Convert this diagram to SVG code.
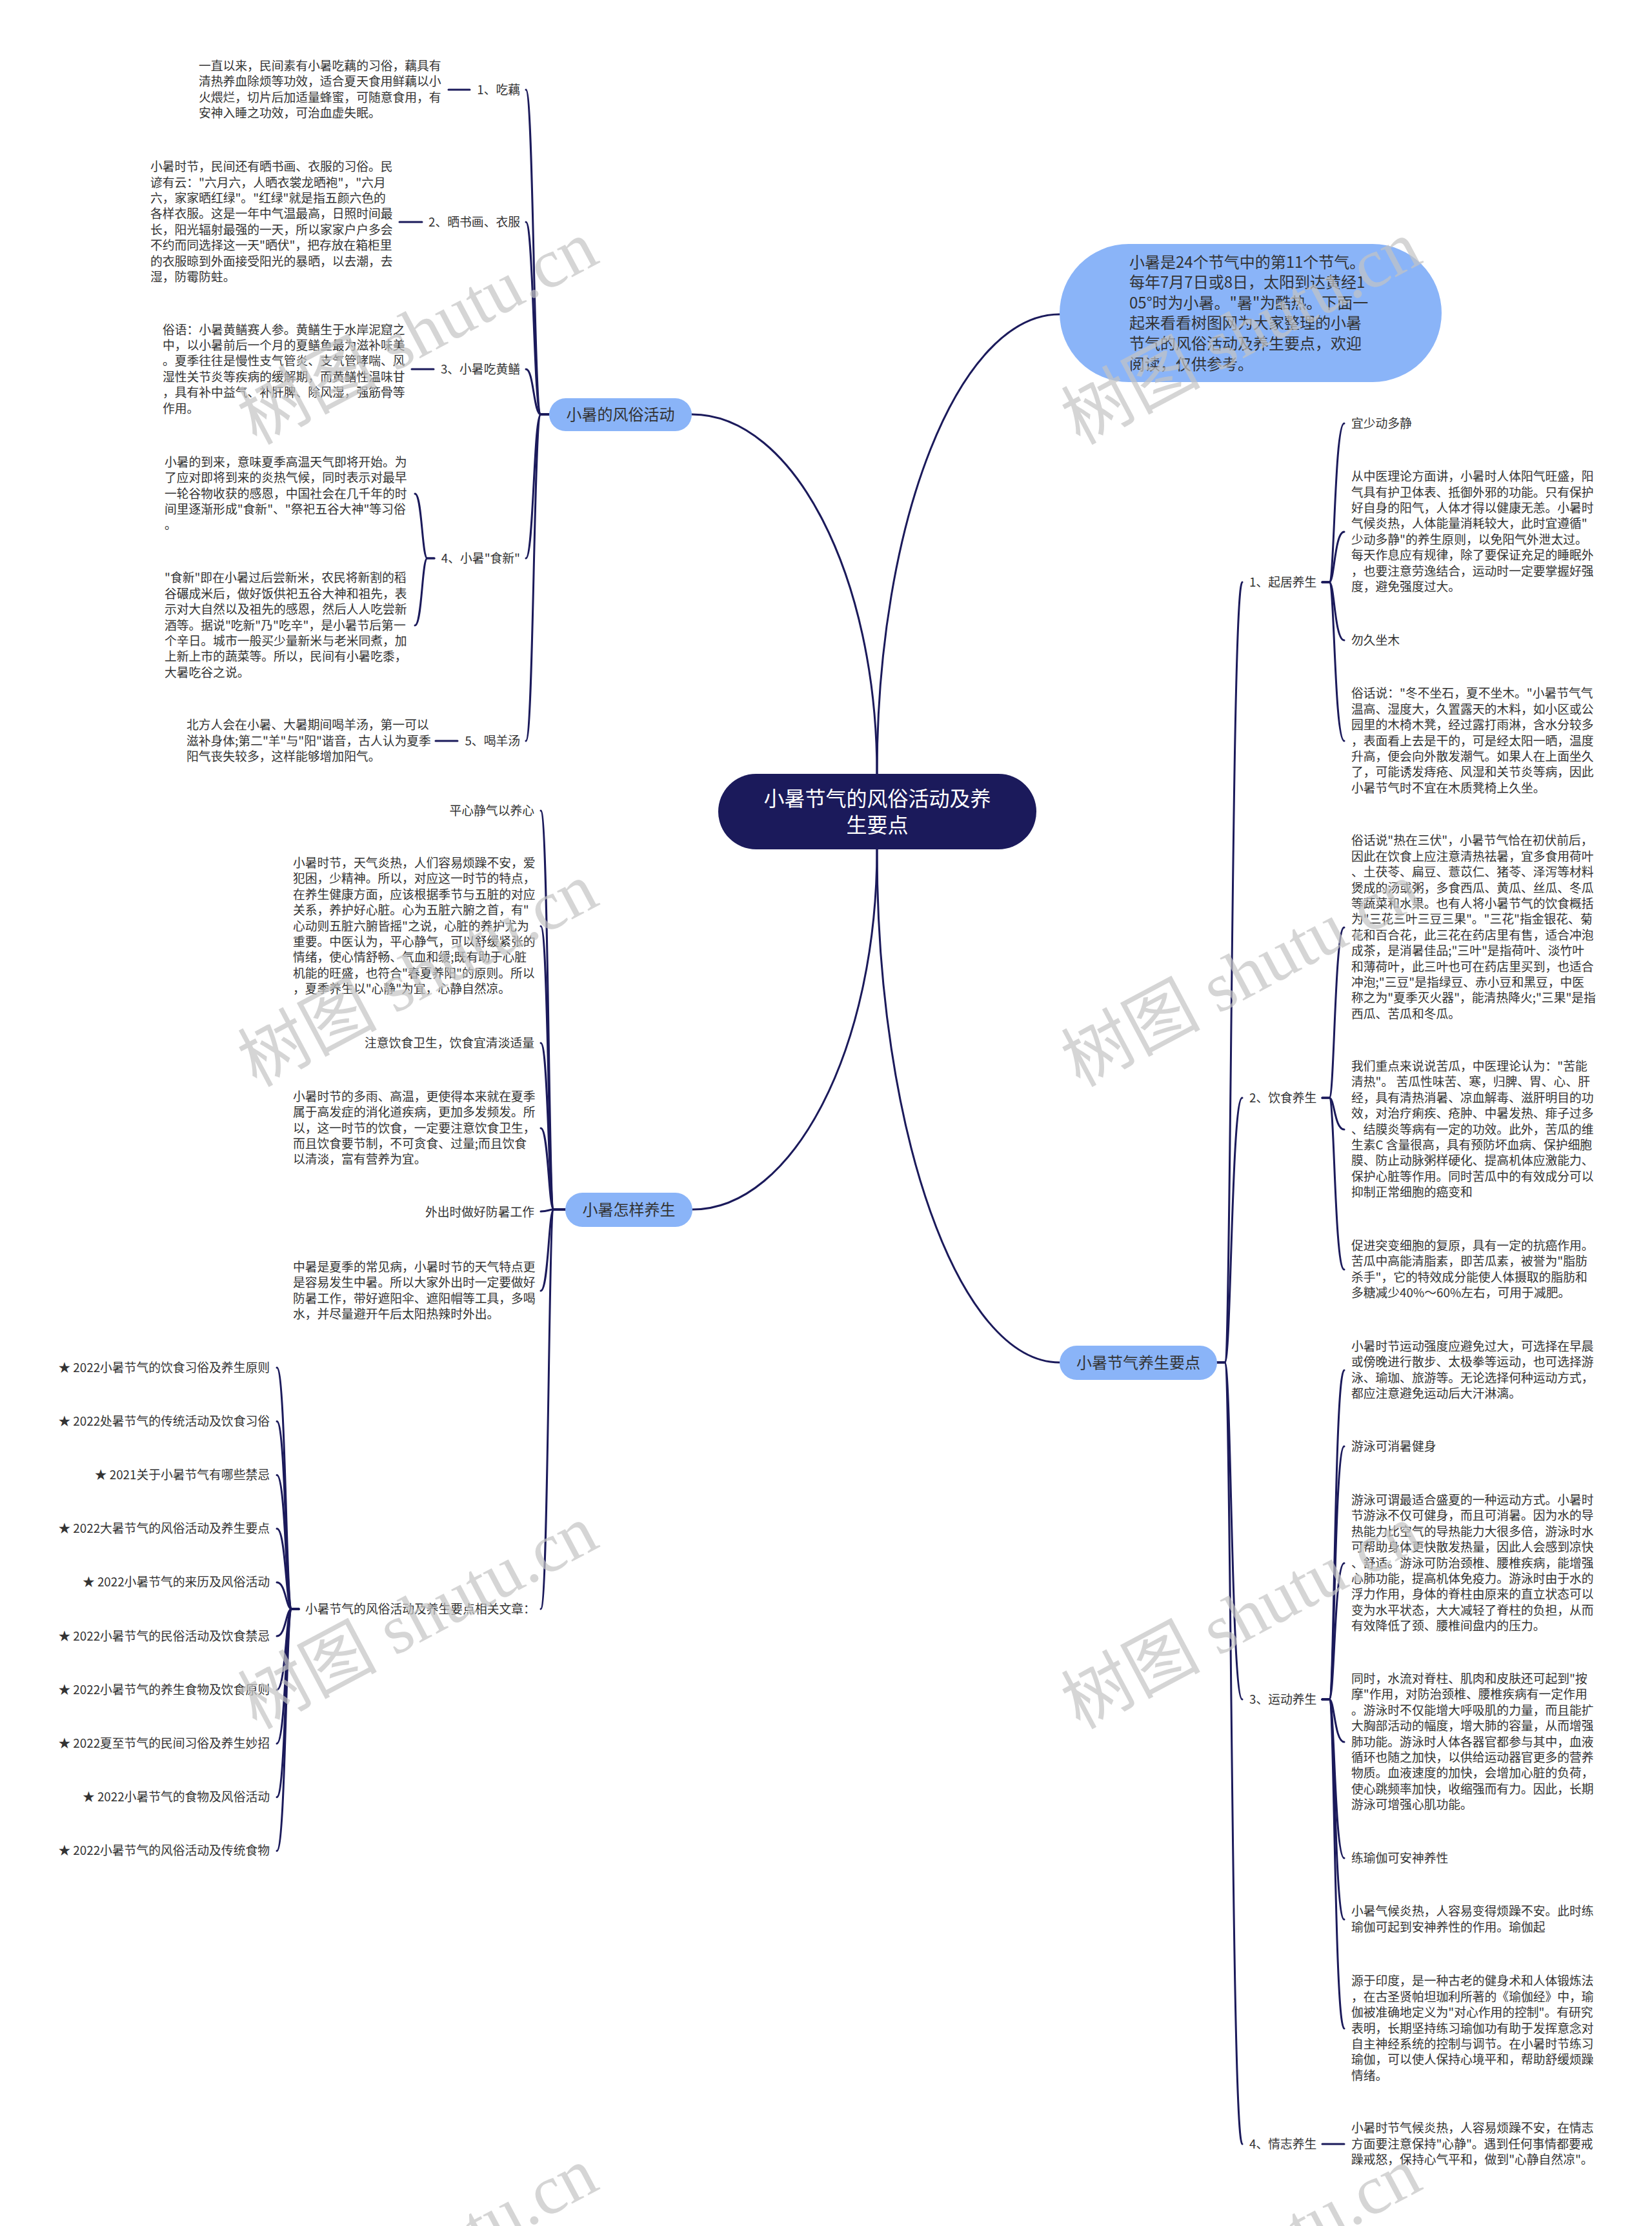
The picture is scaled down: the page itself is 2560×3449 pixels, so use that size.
<svg xmlns="http://www.w3.org/2000/svg" width="2560" height="3449" viewBox="0 0 2560 3449">
<defs>
<style>
.t{font-family:"Noto Sans CJK SC","Noto Sans",sans-serif;font-size:18.8px;fill:#333;}
.e{text-anchor:end;}
.p{font-family:"Noto Sans CJK SC","Noto Sans",sans-serif;font-size:24px;fill:#333;text-anchor:middle;}
.c{fill:none;stroke:#1b1a5b;stroke-width:3;stroke-linecap:round;}
.pill{fill:#8ab4f8;}
.wm{font-family:"Liberation Serif","Noto Sans CJK SC",serif;font-size:108px;fill:#c4c4c4;opacity:0.7;}
</style>
</defs>
<rect width="2560" height="3449" fill="#fff"/>

<g id="connectors">
<path class="c" d="M1359,1199 C1359,893 1230,642 1072,642"/>
<path class="c" d="M1359,1199 C1359,807 1486,487 1642,487"/>
<path class="c" d="M1359,1316 C1359,1623 1230,1874 1073,1874"/>
<path class="c" d="M1359,1316 C1359,1754 1486,2111 1642,2111"/>
<!-- branch 1 -->
<path class="c" d="M851,642 L838,642 C827,642 827,139 815,139"/>
<path class="c" d="M851,642 L838,642 C827,642 827,344 815,344"/>
<path class="c" d="M851,642 L838,642 C827,642 827,572 815,572"/>
<path class="c" d="M851,642 L838,642 C827,642 827,865 815,865"/>
<path class="c" d="M851,642 L838,642 C827,642 827,1148 815,1148"/>
<path class="c" d="M695,139 L728,139"/>
<path class="c" d="M619,344 L654,344"/>
<path class="c" d="M638,572 L672,572"/>
<path class="c" d="M675,1148 L709,1148"/>
<path class="c" d="M673,865 L662,865 C654,865 654,765 643,765"/>
<path class="c" d="M673,865 L662,865 C654,865 654,969 643,969"/>
<!-- branch 2 -->
<path class="c" d="M876,1874 L858,1874 C850,1874 850,1256 838,1256"/>
<path class="c" d="M876,1874 L858,1874 C850,1874 850,1435 838,1435"/>
<path class="c" d="M876,1874 L858,1874 C850,1874 850,1616 838,1616"/>
<path class="c" d="M876,1874 L858,1874 C850,1874 850,1748 838,1748"/>
<path class="c" d="M876,1874 L858,1874 C850,1874 850,1877 838,1877"/>
<path class="c" d="M876,1874 L858,1874 C850,1874 850,2000 838,2000"/>
<path class="c" d="M876,1874 L858,1874 C850,1874 850,2493 838,2493"/>
<path class="c" d="M463,2493 L452,2493 C443,2493 443,2119 429,2119"/>
<path class="c" d="M463,2493 L452,2493 C443,2493 443,2202.2 429,2202.2"/>
<path class="c" d="M463,2493 L452,2493 C443,2493 443,2285.4 429,2285.4"/>
<path class="c" d="M463,2493 L452,2493 C443,2493 443,2368.6 429,2368.6"/>
<path class="c" d="M463,2493 L452,2493 C443,2493 443,2451.8 429,2451.8"/>
<path class="c" d="M463,2493 L452,2493 C443,2493 443,2535 429,2535"/>
<path class="c" d="M463,2493 L452,2493 C443,2493 443,2618.2 429,2618.2"/>
<path class="c" d="M463,2493 L452,2493 C443,2493 443,2701.4 429,2701.4"/>
<path class="c" d="M463,2493 L452,2493 C443,2493 443,2784.6 429,2784.6"/>
<path class="c" d="M463,2493 L452,2493 C443,2493 443,2867.8 429,2867.8"/>
<!-- right branch -->
<path class="c" d="M1886,2111 L1898,2111 C1908,2111 1908,902 1925,902"/>
<path class="c" d="M1886,2111 L1898,2111 C1908,2111 1908,1701 1925,1701"/>
<path class="c" d="M1886,2111 L1898,2111 C1908,2111 1908,2633 1925,2633"/>
<path class="c" d="M1886,2111 L1898,2111 C1908,2111 1908,3322 1925,3322"/>
<path class="c" d="M2049,902 L2060,902 C2068,902 2068,656 2083,656"/>
<path class="c" d="M2049,902 L2060,902 C2068,902 2068,824 2083,824"/>
<path class="c" d="M2049,902 L2060,902 C2068,902 2068,992 2083,992"/>
<path class="c" d="M2049,902 L2060,902 C2068,902 2068,1148 2083,1148"/>
<path class="c" d="M2049,1701 L2060,1701 C2068,1701 2068,1437 2083,1437"/>
<path class="c" d="M2049,1701 L2060,1701 C2068,1701 2068,1750 2083,1750"/>
<path class="c" d="M2049,1701 L2060,1701 C2068,1701 2068,1967 2083,1967"/>
<path class="c" d="M2049,2633 L2060,2633 C2068,2633 2068,2123 2083,2123"/>
<path class="c" d="M2049,2633 L2060,2633 C2068,2633 2068,2241 2083,2241"/>
<path class="c" d="M2049,2633 L2060,2633 C2068,2633 2068,2422 2083,2422"/>
<path class="c" d="M2049,2633 L2060,2633 C2068,2633 2068,2699 2083,2699"/>
<path class="c" d="M2049,2633 L2060,2633 C2068,2633 2068,2879 2083,2879"/>
<path class="c" d="M2049,2633 L2060,2633 C2068,2633 2068,2974 2083,2974"/>
<path class="c" d="M2049,2633 L2060,2633 C2068,2633 2068,3143 2083,3143"/>
<path class="c" d="M2049,3322 L2083,3322"/>
</g>

<g id="center">
<rect x="1113" y="1199" width="493" height="117" rx="58.5" fill="#1b1a5b"/>
<text x="1359.5" y="1249" font-family="Noto Sans CJK SC,sans-serif" font-size="32" fill="#fff" text-anchor="middle">小暑节气的风俗活动及养</text>
<text x="1359.5" y="1290" font-family="Noto Sans CJK SC,sans-serif" font-size="32" fill="#fff" text-anchor="middle">生要点</text>
</g>

<g id="intro">
<rect class="pill" x="1642" y="378" width="592" height="214" rx="107"/>
<text class="t" style="font-size:24px" x="1750" y="414.5"><tspan x="1750">小暑是24个节气中的第11个节气。</tspan><tspan x="1750" dy="31.6">每年7月7日或8日，太阳到达黄经1</tspan><tspan x="1750" dy="31.6">05°时为小暑。"暑"为酷热。下面一</tspan><tspan x="1750" dy="31.6">起来看看树图网为大家整理的小暑</tspan><tspan x="1750" dy="31.6">节气的风俗活动及养生要点，欢迎</tspan><tspan x="1750" dy="31.6">阅读，仅供参考。</tspan></text>
</g>

<g id="b1">
<rect class="pill" x="851" y="617" width="221" height="51" rx="25.5"/>
<text class="p" x="961.5" y="650.5">小暑的风俗活动</text>
</g>
<g id="b1-1">
<text class="t e" x="806" y="145.5">1、吃藕</text>
<text class="t" x="308" y="108.9"><tspan x="308">一直以来，民间素有小暑吃藕的习俗，藕具有</tspan><tspan x="308" dy="24.4">清热养血除烦等功效，适合夏天食用鲜藕以小</tspan><tspan x="308" dy="24.4">火煨烂，切片后加适量蜂蜜，可随意食用，有</tspan><tspan x="308" dy="24.4">安神入睡之功效，可治血虚失眠。</tspan></text>
</g>
<g id="b1-2">
<text class="t e" x="806" y="350.5">2、晒书画、衣服</text>
<text class="t" x="233" y="265.1"><tspan x="233">小暑时节，民间还有晒书画、衣服的习俗。民</tspan><tspan x="233" dy="24.4">谚有云："六月六，人晒衣裳龙晒袍"，"六月</tspan><tspan x="233" dy="24.4">六，家家晒红绿"。"红绿"就是指五颜六色的</tspan><tspan x="233" dy="24.4">各样衣服。这是一年中气温最高，日照时间最</tspan><tspan x="233" dy="24.4">长，阳光辐射最强的一天，所以家家户户多会</tspan><tspan x="233" dy="24.4">不约而同选择这一天"晒伏"，把存放在箱柜里</tspan><tspan x="233" dy="24.4">的衣服晾到外面接受阳光的暴晒，以去潮，去</tspan><tspan x="233" dy="24.4">湿，防霉防蛀。</tspan></text>
</g>
<g id="b1-3">
<text class="t e" x="806" y="578.5">3、小暑吃黄鳝</text>
<text class="t" x="252" y="517.5"><tspan x="252">俗语：小暑黄鳝赛人参。黄鳝生于水岸泥窟之</tspan><tspan x="252" dy="24.4">中，以小暑前后一个月的夏鳝鱼最为滋补味美</tspan><tspan x="252" dy="24.4">。夏季往往是慢性支气管炎、支气管哮喘、风</tspan><tspan x="252" dy="24.4">湿性关节炎等疾病的缓解期，而黄鳝性温味甘</tspan><tspan x="252" dy="24.4">，具有补中益气、补肝脾、除风湿，强筋骨等</tspan><tspan x="252" dy="24.4">作用。</tspan></text>
</g>
<g id="b1-4">
<text class="t e" x="806" y="871.5">4、小暑"食新"</text>
<text class="t" x="255" y="722.7"><tspan x="255">小暑的到来，意味夏季高温天气即将开始。为</tspan><tspan x="255" dy="24.4">了应对即将到来的炎热气候，同时表示对最早</tspan><tspan x="255" dy="24.4">一轮谷物收获的感恩，中国社会在几千年的时</tspan><tspan x="255" dy="24.4">间里逐渐形成"食新"、"祭祀五谷大神"等习俗</tspan><tspan x="255" dy="24.4">。</tspan></text>
<text class="t" x="255" y="902.3"><tspan x="255">"食新"即在小暑过后尝新米，农民将新割的稻</tspan><tspan x="255" dy="24.4">谷碾成米后，做好饭供祀五谷大神和祖先，表</tspan><tspan x="255" dy="24.4">示对大自然以及祖先的感恩，然后人人吃尝新</tspan><tspan x="255" dy="24.4">酒等。据说"吃新"乃"吃辛"，是小暑节后第一</tspan><tspan x="255" dy="24.4">个辛日。城市一般买少量新米与老米同煮，加</tspan><tspan x="255" dy="24.4">上新上市的蔬菜等。所以，民间有小暑吃黍，</tspan><tspan x="255" dy="24.4">大暑吃谷之说。</tspan></text>
</g>
<g id="b1-5">
<text class="t e" x="806" y="1154.5">5、喝羊汤</text>
<text class="t" x="289" y="1130.1"><tspan x="289">北方人会在小暑、大暑期间喝羊汤，第一可以</tspan><tspan x="289" dy="24.4">滋补身体;第二"羊"与"阳"谐音，古人认为夏季</tspan><tspan x="289" dy="24.4">阳气丧失较多，这样能够增加阳气。</tspan></text>
</g>

<g id="b2">
<rect class="pill" x="876" y="1848" width="197" height="53" rx="26.5"/>
<text class="p" x="974.5" y="1882.5">小暑怎样养生</text>
</g>
<g id="b2-1">
<text class="t e" x="828" y="1262.5">平心静气以养心</text>
<text class="t" x="454" y="1343.9"><tspan x="454">小暑时节，天气炎热，人们容易烦躁不安，爱</tspan><tspan x="454" dy="24.4">犯困，少精神。所以，对应这一时节的特点，</tspan><tspan x="454" dy="24.4">在养生健康方面，应该根据季节与五脏的对应</tspan><tspan x="454" dy="24.4">关系，养护好心脏。心为五脏六腑之首，有"</tspan><tspan x="454" dy="24.4">心动则五脏六腑皆摇"之说，心脏的养护尤为</tspan><tspan x="454" dy="24.4">重要。中医认为，平心静气，可以舒缓紧张的</tspan><tspan x="454" dy="24.4">情绪，使心情舒畅、气血和缓;既有助于心脏</tspan><tspan x="454" dy="24.4">机能的旺盛，也符合"春夏养阳"的原则。所以</tspan><tspan x="454" dy="24.4">，夏季养生以"心静"为宜，心静自然凉。</tspan></text>
</g>
<g id="b2-2">
<text class="t e" x="828" y="1622.5">注意饮食卫生，饮食宜清淡适量</text>
<text class="t" x="454" y="1705.7"><tspan x="454">小暑时节的多雨、高温，更使得本来就在夏季</tspan><tspan x="454" dy="24.4">属于高发症的消化道疾病，更加多发频发。所</tspan><tspan x="454" dy="24.4">以，这一时节的饮食，一定要注意饮食卫生，</tspan><tspan x="454" dy="24.4">而且饮食要节制，不可贪食、过量;而且饮食</tspan><tspan x="454" dy="24.4">以清淡，富有营养为宜。</tspan></text>
</g>
<g id="b2-3">
<text class="t e" x="828" y="1884.5">外出时做好防暑工作</text>
<text class="t" x="454" y="1969.9"><tspan x="454">中暑是夏季的常见病，小暑时节的天气特点更</tspan><tspan x="454" dy="24.4">是容易发生中暑。所以大家外出时一定要做好</tspan><tspan x="454" dy="24.4">防暑工作，带好遮阳伞、遮阳帽等工具，多喝</tspan><tspan x="454" dy="24.4">水，并尽量避开午后太阳热辣时外出。</tspan></text>
</g>
<g id="b2-4">
<text class="t" x="473" y="2499.5">小暑节气的风俗活动及养生要点相关文章：</text>
<text class="t e" x="418" y="2125.5">★ 2022小暑节气的饮食习俗及养生原则</text>
<text class="t e" x="418" y="2208.7">★ 2022处暑节气的传统活动及饮食习俗</text>
<text class="t e" x="418" y="2291.9">★ 2021关于小暑节气有哪些禁忌</text>
<text class="t e" x="418" y="2375.1">★ 2022大暑节气的风俗活动及养生要点</text>
<text class="t e" x="418" y="2458.3">★ 2022小暑节气的来历及风俗活动</text>
<text class="t e" x="418" y="2541.5">★ 2022小暑节气的民俗活动及饮食禁忌</text>
<text class="t e" x="418" y="2624.7">★ 2022小暑节气的养生食物及饮食原则</text>
<text class="t e" x="418" y="2707.9">★ 2022夏至节气的民间习俗及养生妙招</text>
<text class="t e" x="418" y="2791.1">★ 2022小暑节气的食物及风俗活动</text>
<text class="t e" x="418" y="2874.3">★ 2022小暑节气的风俗活动及传统食物</text>
</g>

<g id="b3">
<rect class="pill" x="1642" y="2085" width="244" height="53" rx="26.5"/>
<text class="p" x="1764" y="2119.5">小暑节气养生要点</text>
</g>
<g id="b3-1">
<text class="t" x="1936" y="908.5">1、起居养生</text>
<text class="t" x="2094" y="662.5">宜少动多静</text>
<text class="t" x="2094" y="745.1"><tspan x="2094">从中医理论方面讲，小暑时人体阳气旺盛，阳</tspan><tspan x="2094" dy="24.4">气具有护卫体表、抵御外邪的功能。只有保护</tspan><tspan x="2094" dy="24.4">好自身的阳气，人体才得以健康无恙。小暑时</tspan><tspan x="2094" dy="24.4">气候炎热，人体能量消耗较大，此时宜遵循"</tspan><tspan x="2094" dy="24.4">少动多静"的养生原则，以免阳气外泄太过。</tspan><tspan x="2094" dy="24.4">每天作息应有规律，除了要保证充足的睡眠外</tspan><tspan x="2094" dy="24.4">，也要注意劳逸结合，运动时一定要掌握好强</tspan><tspan x="2094" dy="24.4">度，避免强度过大。</tspan></text>
<text class="t" x="2094" y="998.5">勿久坐木</text>
<text class="t" x="2094" y="1081.3"><tspan x="2094">俗话说："冬不坐石，夏不坐木。"小暑节气气</tspan><tspan x="2094" dy="24.4">温高、湿度大，久置露天的木料，如小区或公</tspan><tspan x="2094" dy="24.4">园里的木椅木凳，经过露打雨淋，含水分较多</tspan><tspan x="2094" dy="24.4">，表面看上去是干的，可是经太阳一晒，温度</tspan><tspan x="2094" dy="24.4">升高，便会向外散发潮气。如果人在上面坐久</tspan><tspan x="2094" dy="24.4">了，可能诱发痔疮、风湿和关节炎等病，因此</tspan><tspan x="2094" dy="24.4">小暑节气时不宜在木质凳椅上久坐。</tspan></text>
</g>
<g id="b3-2">
<text class="t" x="1936" y="1707.5">2、饮食养生</text>
<text class="t" x="2094" y="1309.3"><tspan x="2094">俗话说"热在三伏"，小暑节气恰在初伏前后，</tspan><tspan x="2094" dy="24.4">因此在饮食上应注意清热祛暑，宜多食用荷叶</tspan><tspan x="2094" dy="24.4">、土茯苓、扁豆、薏苡仁、猪苓、泽泻等材料</tspan><tspan x="2094" dy="24.4">煲成的汤或粥，多食西瓜、黄瓜、丝瓜、冬瓜</tspan><tspan x="2094" dy="24.4">等蔬菜和水果。也有人将小暑节气的饮食概括</tspan><tspan x="2094" dy="24.4">为"三花三叶三豆三果"。"三花"指金银花、菊</tspan><tspan x="2094" dy="24.4">花和百合花，此三花在药店里有售，适合冲泡</tspan><tspan x="2094" dy="24.4">成茶，是消暑佳品;"三叶"是指荷叶、淡竹叶</tspan><tspan x="2094" dy="24.4">和薄荷叶，此三叶也可在药店里买到，也适合</tspan><tspan x="2094" dy="24.4">冲泡;"三豆"是指绿豆、赤小豆和黑豆，中医</tspan><tspan x="2094" dy="24.4">称之为"夏季灭火器"，能清热降火;"三果"是指</tspan><tspan x="2094" dy="24.4">西瓜、苦瓜和冬瓜。</tspan></text>
<text class="t" x="2094" y="1658.9"><tspan x="2094">我们重点来说说苦瓜，中医理论认为："苦能</tspan><tspan x="2094" dy="24.4">清热"。 苦瓜性味苦、寒，归脾、胃、心、肝</tspan><tspan x="2094" dy="24.4">经，具有清热消暑、凉血解毒、滋肝明目的功</tspan><tspan x="2094" dy="24.4">效，对治疗痢疾、疮肿、中暑发热、痱子过多</tspan><tspan x="2094" dy="24.4">、结膜炎等病有一定的功效。此外，苦瓜的维</tspan><tspan x="2094" dy="24.4">生素C 含量很高，具有预防坏血病、保护细胞</tspan><tspan x="2094" dy="24.4">膜、防止动脉粥样硬化、提高机体应激能力、</tspan><tspan x="2094" dy="24.4">保护心脏等作用。同时苦瓜中的有效成分可以</tspan><tspan x="2094" dy="24.4">抑制正常细胞的癌变和</tspan></text>
<text class="t" x="2094" y="1936.9"><tspan x="2094">促进突变细胞的复原，具有一定的抗癌作用。</tspan><tspan x="2094" dy="24.4">苦瓜中高能清脂素，即苦瓜素，被誉为"脂肪</tspan><tspan x="2094" dy="24.4">杀手"，它的特效成分能使人体摄取的脂肪和</tspan><tspan x="2094" dy="24.4">多糖减少40%～60%左右，可用于减肥。</tspan></text>
</g>
<g id="b3-3">
<text class="t" x="1936" y="2639.5">3、运动养生</text>
<text class="t" x="2094" y="2092.9"><tspan x="2094">小暑时节运动强度应避免过大，可选择在早晨</tspan><tspan x="2094" dy="24.4">或傍晚进行散步、太极拳等运动，也可选择游</tspan><tspan x="2094" dy="24.4">泳、瑜珈、旅游等。无论选择何种运动方式，</tspan><tspan x="2094" dy="24.4">都应注意避免运动后大汗淋漓。</tspan></text>
<text class="t" x="2094" y="2247.5">游泳可消暑健身</text>
<text class="t" x="2094" y="2330.9"><tspan x="2094">游泳可谓最适合盛夏的一种运动方式。小暑时</tspan><tspan x="2094" dy="24.4">节游泳不仅可健身，而且可消暑。因为水的导</tspan><tspan x="2094" dy="24.4">热能力比空气的导热能力大很多倍，游泳时水</tspan><tspan x="2094" dy="24.4">可帮助身体更快散发热量，因此人会感到凉快</tspan><tspan x="2094" dy="24.4">、舒适。游泳可防治颈椎、腰椎疾病，能增强</tspan><tspan x="2094" dy="24.4">心肺功能，提高机体免疫力。游泳时由于水的</tspan><tspan x="2094" dy="24.4">浮力作用，身体的脊柱由原来的直立状态可以</tspan><tspan x="2094" dy="24.4">变为水平状态，大大减轻了脊柱的负担，从而</tspan><tspan x="2094" dy="24.4">有效降低了颈、腰椎间盘内的压力。</tspan></text>
<text class="t" x="2094" y="2607.9"><tspan x="2094">同时，水流对脊柱、肌肉和皮肤还可起到"按</tspan><tspan x="2094" dy="24.4">摩"作用，对防治颈椎、腰椎疾病有一定作用</tspan><tspan x="2094" dy="24.4">。游泳时不仅能增大呼吸肌的力量，而且能扩</tspan><tspan x="2094" dy="24.4">大胸部活动的幅度，增大肺的容量，从而增强</tspan><tspan x="2094" dy="24.4">肺功能。游泳时人体各器官都参与其中，血液</tspan><tspan x="2094" dy="24.4">循环也随之加快，以供给运动器官更多的营养</tspan><tspan x="2094" dy="24.4">物质。血液速度的加快，会增加心脏的负荷，</tspan><tspan x="2094" dy="24.4">使心跳频率加快，收缩强而有力。因此，长期</tspan><tspan x="2094" dy="24.4">游泳可增强心肌功能。</tspan></text>
<text class="t" x="2094" y="2885.5">练瑜伽可安神养性</text>
<text class="t" x="2094" y="2968.3"><tspan x="2094">小暑气候炎热，人容易变得烦躁不安。此时练</tspan><tspan x="2094" dy="24.4">瑜伽可起到安神养性的作用。瑜伽起</tspan></text>
<text class="t" x="2094" y="3076.3"><tspan x="2094">源于印度，是一种古老的健身术和人体锻炼法</tspan><tspan x="2094" dy="24.4">，在古圣贤帕坦珈利所著的《瑜伽经》中，瑜</tspan><tspan x="2094" dy="24.4">伽被准确地定义为"对心作用的控制"。有研究</tspan><tspan x="2094" dy="24.4">表明，长期坚持练习瑜伽功有助于发挥意念对</tspan><tspan x="2094" dy="24.4">自主神经系统的控制与调节。在小暑时节练习</tspan><tspan x="2094" dy="24.4">瑜伽，可以使人保持心境平和，帮助舒缓烦躁</tspan><tspan x="2094" dy="24.4">情绪。</tspan></text>
</g>
<g id="b3-4">
<text class="t" x="1936" y="3328.5">4、情志养生</text>
<text class="t" x="2094" y="3304.1"><tspan x="2094">小暑时节气候炎热，人容易烦躁不安，在情志</tspan><tspan x="2094" dy="24.4">方面要注意保持"心静"。遇到任何事情都要戒</tspan><tspan x="2094" dy="24.4">躁戒怒，保持心气平和，做到"心静自然凉"。</tspan></text>
</g>

<g id="watermarks">
<text class="wm" x="397" y="690" transform="rotate(-28 397 690)">树图 shutu.cn</text>
<text class="wm" x="1673" y="690" transform="rotate(-28 1673 690)">树图 shutu.cn</text>
<text class="wm" x="397" y="1685" transform="rotate(-28 397 1685)">树图 shutu.cn</text>
<text class="wm" x="1673" y="1685" transform="rotate(-28 1673 1685)">树图 shutu.cn</text>
<text class="wm" x="397" y="2680" transform="rotate(-28 397 2680)">树图 shutu.cn</text>
<text class="wm" x="1673" y="2680" transform="rotate(-28 1673 2680)">树图 shutu.cn</text>
<text class="wm" x="397" y="3675" transform="rotate(-28 397 3675)">树图 shutu.cn</text>
<text class="wm" x="1673" y="3675" transform="rotate(-28 1673 3675)">树图 shutu.cn</text>
</g>
</svg>
